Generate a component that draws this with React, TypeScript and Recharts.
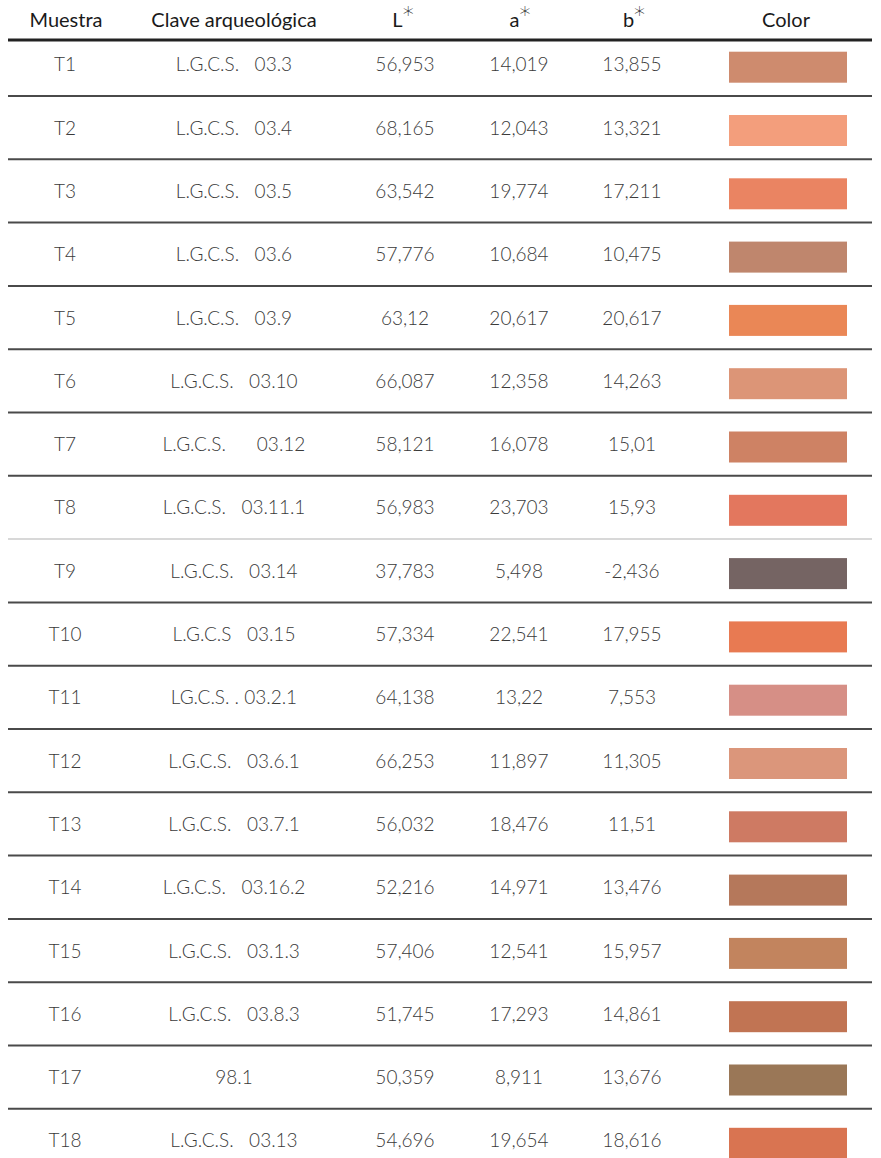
import { BarChart, Bar, XAxis, YAxis, Cell } from "recharts";

const samples = ["T1", "T2", "T3", "T4", "T5", "T6", "T7", "T8", "T9", "T10", "T11", "T12", "T13", "T14", "T15", "T16", "T17", "T18"];
const claves = [
  "L.G.C.S.   03.3",
  "L.G.C.S.   03.4",
  "L.G.C.S.   03.5",
  "L.G.C.S.   03.6",
  "L.G.C.S.   03.9",
  "L.G.C.S.   03.10",
  "L.G.C.S.      03.12",
  "L.G.C.S.   03.11.1",
  "L.G.C.S.   03.14",
  "L.G.C.S   03.15",
  "LG.C.S. . 03.2.1",
  "L.G.C.S.   03.6.1",
  "L.G.C.S.   03.7.1",
  "L.G.C.S.   03.16.2",
  "L.G.C.S.   03.1.3",
  "L.G.C.S.   03.8.3",
  "98.1",
  "L.G.C.S.   03.13",
];
const lValues = [56.953, 68.165, 63.542, 57.776, 63.12, 66.087, 58.121, 56.983, 37.783, 57.334, 64.138, 66.253, 56.032, 52.216, 57.406, 51.745, 50.359, 54.696];
const aValues = [14.019, 12.043, 19.774, 10.684, 20.617, 12.358, 16.078, 23.703, 5.498, 22.541, 13.22, 11.897, 18.476, 14.971, 12.541, 17.293, 8.911, 19.654];
const bValues = [13.855, 13.321, 17.211, 10.475, 20.617, 14.263, 15.01, 15.93, -2.436, 17.955, 7.553, 11.305, 11.51, 13.476, 15.957, 14.861, 13.676, 18.616];
const swatchColors = [
  "#CE8B6E", "#F39E7C", "#EA8462", "#BF866D", "#EA8756", "#DC9577",
  "#CE8264", "#E3775E", "#756463", "#E87A52", "#D68F86", "#DB967B",
  "#CE7A63", "#B5785B", "#C2845E", "#C17453", "#9A7757", "#D97451",
];
// rule under each row (the one under T8 is printed lighter)
const ruleColors = samples.map((s) => (s === "T8" ? "#d8d8d8" : "#4a4a4a"));

const data = samples.map((sample, i) => ({
  sample,
  clave: claves[i],
  L: lValues[i],
  a: aValues[i],
  b: bValues[i],
  color: swatchColors[i],
  swatch: 1,
}));

const FONT = "Lato, 'Open Sans', sans-serif";
const fmt = (v: number) => String(v).replace(".", ",");

// column centres (page px)
const COL = { muestra: 65, clave: 234, L: 405, a: 519, b: 632, color: 788 };

function RowTick(props: any) {
  const { y, index } = props;
  const row = data[index];
  if (!row) return null;
  const base = y + 7;
  const common = {
    y: base,
    textAnchor: "middle" as const,
    fontFamily: FONT,
    fontSize: 19,
    fontWeight: 300,
    fill: "#3a3a3a",
  };
  return (
    <g>
      <text x={COL.muestra} {...common}>{row.sample}</text>
      <text x={COL.clave} {...common} style={{ whiteSpace: "pre" }}>{row.clave}</text>
      <text x={COL.L} {...common}>{fmt(row.L)}</text>
      <text x={COL.a} {...common}>{fmt(row.a)}</text>
      <text x={COL.b} {...common}>{fmt(row.b)}</text>
      <line x1={8} x2={872} y1={y + 31.65} y2={y + 31.65} stroke={ruleColors[index]} strokeWidth={2} />
    </g>
  );
}

function Swatch(props: any) {
  const { x, y, width, height, fill } = props;
  return <rect x={x} y={y + 3} width={width} height={height} fill={fill} />;
}

function Header() {
  const h = { y: 27, textAnchor: "middle" as const, fontFamily: FONT, fontSize: 20, fill: "#1a1a1a" };
  const star = { dy: -5, fontSize: 22, fontFamily: "'DejaVu Sans', sans-serif", fontWeight: 300 };
  return (
    <svg width={881} height={44} style={{ position: "absolute", left: 0, top: 0 }}>
      <text x={66} {...h}>Muestra</text>
      <text x={234} {...h}>Clave arqueológica</text>
      <text x={403} {...h}>L<tspan {...star}>*</tspan></text>
      <text x={520} {...h}>a<tspan {...star}>*</tspan></text>
      <text x={634} {...h}>b<tspan {...star}>*</tspan></text>
      <text x={786} {...h}>Color</text>
      <line x1={8} x2={872} y1={40} y2={40} stroke="#222" strokeWidth={3} />
    </svg>
  );
}

export default function App() {
  return (
    <div style={{ position: "absolute", left: 0, top: 0, width: 881, height: 1180, background: "#fff" }}>
      <BarChart
        width={881}
        height={1180}
        data={data}
        layout="vertical"
        margin={{ top: 32.7, right: 34, bottom: 7.9, left: 0 }}
        barCategoryGap={0}
      >
        <XAxis type="number" domain={[0, 1]} hide />
        <YAxis
          type="category"
          dataKey="sample"
          width={729}
          axisLine={false}
          tickLine={false}
          tick={<RowTick />}
          interval={0}
        />
        <Bar dataKey="swatch" barSize={31} shape={<Swatch />} isAnimationActive={false}>
          {data.map((d) => (
            <Cell key={d.sample} fill={d.color} />
          ))}
        </Bar>
      </BarChart>
      <Header />
    </div>
  );
}
